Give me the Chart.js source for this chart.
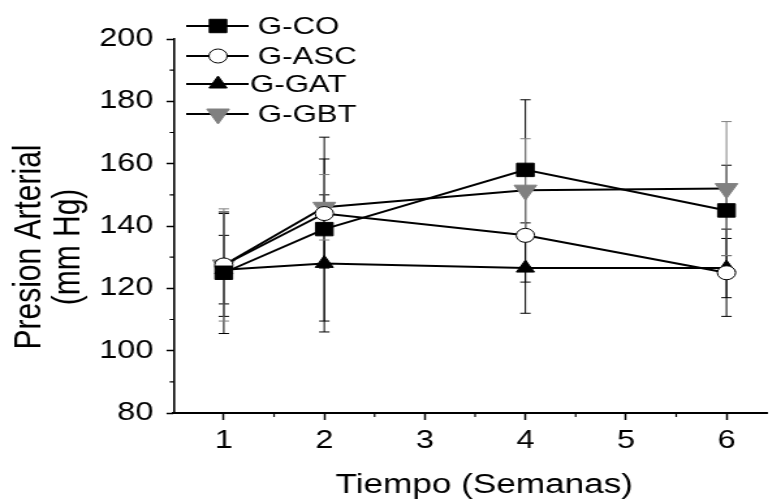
<!DOCTYPE html>
<html>
<head>
<meta charset="utf-8">
<script src="https://cdn.jsdelivr.net/npm/chart.js@4.4.1/dist/chart.umd.min.js"></script>
<style>
  html, body { margin: 0; padding: 0; background: #fff; overflow: hidden; }
  /* the reference is stretched sideways, so draw narrow and widen */
  #wrap { width: 600px; height: 499px; transform: scaleX(1.30167); transform-origin: 0 0; }
</style>
</head>
<body>
<div id="wrap"><canvas id="chart" width="600" height="499"></canvas></div>
<script>
// =====
// Data
// =====
const weeks = [1, 2, 4, 6];
const seriesNames = ['G-CO', 'G-ASC', 'G-GAT', 'G-GBT'];
const coValues = [125, 139, 158, 145];
const coErrors = [19.5, 29.5, 22.5, 14.5];
const ascValues = [127.5, 144, 137, 125];
const ascErrors = [16.5, 17.5, 15, 14];
const gatValues = [126, 128, 126.5, 126.5];
const gatErrors = [11, 22, 14.5, 9.5];
const gbtValues = [127.5, 146, 151.5, 152];
const gbtErrors = [18, 10.5, 16.5, 21.5];
const xTicks = [1, 2, 3, 4, 5, 6];
const xMinorTicks = [1.5, 2.5, 3.5, 4.5, 5.5];
const yTicks = [80, 100, 120, 140, 160, 180, 200];
const yMinorTicks = [90, 110, 130, 150, 170, 190];

const FONT = "'Liberation Sans', Arial, sans-serif";

function toPoints(values) {
    return values.map((v, i) => ({ x: weeks[i], y: v }));
}

function makeSeries(label, values, errors, style) {
    return Object.assign({
        label,
        data: toPoints(values),
        errors,
        borderColor: '#000',
        borderWidth: 2,
        pointBorderWidth: 1,
        pointHoverRadius: 0,
        tension: 0,
        errColor: '#000'
    }, style);
}

const datasets = [
    makeSeries(seriesNames[0], coValues, coErrors, {
        pointStyle: 'rect', pointRadius: 9.5, pointBackgroundColor: '#000', pointBorderColor: '#000'
    }),
    makeSeries(seriesNames[1], ascValues, ascErrors, {
        pointStyle: 'circle', pointRadius: 7, pointBackgroundColor: '#fff', pointBorderColor: '#000'
    }),
    makeSeries(seriesNames[2], gatValues, gatErrors, {
        pointStyle: 'triangle', pointRadius: 8, pointBackgroundColor: '#000', pointBorderColor: '#000'
    }),
    makeSeries(seriesNames[3], gbtValues, gbtErrors, {
        pointStyle: 'triangle', pointRotation: 180, pointRadius: 10,
        pointBackgroundColor: '#808080', pointBorderColor: '#808080', errColor: '#808080'
    })
];

// ==========
// Error bars
// ==========
const errorBars = {
    id: 'errorBars',
    beforeDatasetsDraw(chart) {
        const { ctx, scales: { x, y } } = chart;
        chart.data.datasets.forEach(ds => {
            ctx.save();
            ctx.strokeStyle = ds.errColor;
            ctx.lineWidth = 1;
            ds.data.forEach((p, j) => {
                const e = ds.errors[j];
                const px = x.getPixelForValue(p.x);
                const top = y.getPixelForValue(p.y + e);
                const bot = y.getPixelForValue(p.y - e);
                ctx.beginPath();
                ctx.moveTo(px, top); ctx.lineTo(px, bot);
                ctx.moveTo(px - 4, top); ctx.lineTo(px + 4, top);
                ctx.moveTo(px - 4, bot); ctx.lineTo(px + 4, bot);
                ctx.stroke();
            });
            ctx.restore();
        });
    }
};

// ===========================
// Minor ticks, titles, legend
// ===========================
function drawMarker(ctx, ds, cx, cy) {
    ctx.save();
    ctx.fillStyle = ds.pointBackgroundColor;
    ctx.strokeStyle = ds.pointBorderColor;
    ctx.lineWidth = ds.pointBorderWidth;
    Chart.helpers.drawPoint(ctx, {
        pointStyle: ds.pointStyle,
        rotation: ds.pointRotation || 0,
        radius: ds.pointRadius,
        borderWidth: ds.pointBorderWidth
    }, cx, cy);
    ctx.restore();
}

const decorations = {
    id: 'decorations',
    afterDraw(chart) {
        const { ctx, scales: { x, y }, chartArea } = chart;
        ctx.save();
        ctx.strokeStyle = '#000';

        // minor ticks
        ctx.lineWidth = 1.2;
        ctx.beginPath();
        yMinorTicks.forEach(v => {
            const py = y.getPixelForValue(v);
            ctx.moveTo(chartArea.left, py);
            ctx.lineTo(chartArea.left - 3, py);
        });
        xMinorTicks.forEach(v => {
            const px = x.getPixelForValue(v);
            ctx.moveTo(px, chartArea.bottom);
            ctx.lineTo(px, chartArea.bottom + 4);
        });
        ctx.stroke();

        // axis titles
        ctx.fillStyle = '#000';
        ctx.font = '27px ' + FONT;
        ctx.textAlign = 'center';
        ctx.textBaseline = 'alphabetic';
        ctx.fillText('Tiempo (Semanas)', 372, 493);

        ctx.save();
        ctx.translate(0, 247);
        ctx.rotate(-Math.PI / 2);
        ctx.font = '30px ' + FONT;
        ctx.fillText('Presion Arterial', 0, 31);
        ctx.fillText('(mm Hg)', 0, 61);
        ctx.restore();

        // legend
        const rows = [26, 56, 84, 114];
        ctx.font = '24px ' + FONT;
        ctx.textAlign = 'left';
        ctx.textBaseline = 'middle';
        chart.data.datasets.forEach((ds, i) => {
            const ly = rows[i];
            ctx.lineWidth = 2;
            ctx.strokeStyle = '#000';
            ctx.beginPath();
            ctx.moveTo(143, ly);
            ctx.lineTo(191, ly);
            ctx.stroke();
            drawMarker(ctx, ds, 167.5, ly);
            ctx.fillStyle = '#000';
            ctx.fillText(ds.label, i === 2 ? 192 : 198, ly + 1);
        });
        ctx.restore();
    }
};

// =====
// Chart
// =====
new Chart(document.getElementById('chart'), {
    type: 'line',
    data: { datasets },
    plugins: [errorBars, decorations],
    options: {
        responsive: false,
        animation: false,
        devicePixelRatio: 1,
        layout: { padding: { top: 39, right: 0, bottom: 0, left: 0 } },
        plugins: {
            legend: { display: false },
            tooltip: { enabled: false }
        },
        scales: {
            x: {
                type: 'linear',
                min: 0.5,
                max: 6.4,
                afterBuildTicks: s => { s.ticks = xTicks.map(v => ({ value: v })); },
                afterFit: s => { s.height = 86; },
                grid: { drawOnChartArea: false, tickLength: 7, tickColor: '#000', tickWidth: 1.5 },
                border: { color: '#000', width: 2 },
                ticks: {
                    color: '#000',
                    padding: 6,
                    maxRotation: 0,
                    font: { family: FONT, size: 25 }
                }
            },
            y: {
                min: 80,
                max: 200,
                afterBuildTicks: s => { s.ticks = yTicks.map(v => ({ value: v })); },
                afterFit: s => { s.width = 133.3; },
                grid: { drawOnChartArea: false, tickLength: 5.4, tickColor: '#000', tickWidth: 1.5 },
                border: { color: '#000', width: 1.6 },
                ticks: {
                    color: '#000',
                    padding: 10,
                    font: { family: FONT, size: 25 }
                }
            }
        }
    }
});
</script>
</body>
</html>
